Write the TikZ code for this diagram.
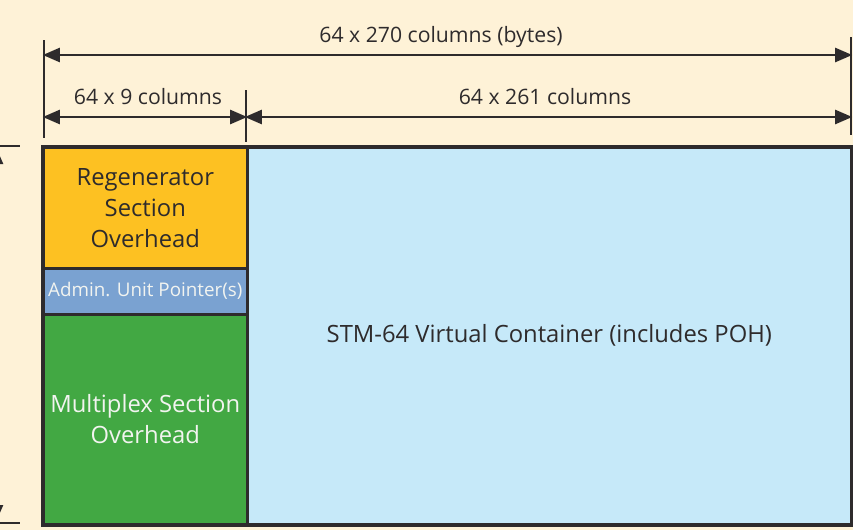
\documentclass[tikz,border=0pt]{standalone}
\usepackage{fontspec}
\setmainfont{Open Sans}
\usetikzlibrary{arrows.meta}
\definecolor{bg}{HTML}{FEF2D7}
\definecolor{rsoh}{HTML}{FDC122}
\definecolor{aup}{HTML}{7AA2D1}
\definecolor{msoh}{HTML}{42A843}
\definecolor{vc}{HTML}{C6E9F9}
\definecolor{ink}{HTML}{2E2B2C}
\definecolor{wtext}{HTML}{F2F4F0}
\begin{document}
\begin{tikzpicture}[x=1pt,y=-1pt,
  box/.style={draw=ink,line width=2.6pt,inner sep=0pt,anchor=north west,align=center},
  dim/.style={draw=ink,line width=2.4pt},
  dimarrow/.style={draw=ink,line width=2.4pt,{Triangle[length=17pt,width=14pt]}-{Triangle[length=17pt,width=14pt]}},
  dimlabel/.style={text=ink,font=\fontsize{21.2}{24}\selectfont,inner sep=0pt},
  boxtext/.style={font=\fontsize{23.8}{31}\selectfont}
]
\fill[bg] (0,0) rectangle (853,530);
\useasboundingbox (0,0) rectangle (853,530);
% boxes
\node[box,fill=vc,minimum width=604pt,minimum height=377pt,text=ink,boxtext] (vc) at (246,146) {STM-64 Virtual Container (includes POH)};
\node[box,fill=rsoh,minimum width=204pt,minimum height=121pt,text=ink,boxtext] (rsoh) at (42,146) {Regenerator\\Section\\Overhead};
\node[box,fill=aup,minimum width=204pt,minimum height=46pt,text=wtext,font=\fontsize{18.8}{20}\selectfont] (aup) at (42,267) {Admin. Unit Pointer(s)};
\node[box,fill=msoh,minimum width=204pt,minimum height=210pt,text=wtext,boxtext] (msoh) at (42,313) {Multiplex Section\\Overhead};
\draw[draw=ink,line width=3pt] (rsoh.north west) rectangle (vc.south east);
% dimension lines
\coordinate (l1) at (44,40);
\coordinate (l2) at (44,138);
\coordinate (m1) at (246,90);
\coordinate (m2) at (246,142);
\coordinate (r1) at (851,37);
\coordinate (r2) at (851,135);
\draw[dim] (l1) -- (l2);
\draw[dim] (m1) -- (m2);
\draw[dim] (r1) -- (r2);
\coordinate (a1) at (44,55);
\coordinate (b1) at (851,55);
\coordinate (a2) at (44,117);
\coordinate (b2) at (246,117);
\coordinate (c2) at (851,117);
\draw[dimarrow,shorten <=-1.2pt,shorten >=-1.2pt] (a1) -- (b1);
\draw[dimarrow,shorten <=-1.2pt,shorten >=-1.2pt] (a2) -- (b2);
\draw[dimarrow,shorten <=-1.2pt,shorten >=-1.2pt] (b2) -- (c2);
\node[dimlabel] (t1) at (441,37) {64 x 270 columns (bytes)};
\node[dimlabel] (t2) at (148,97) {64 x 9 columns};
\node[dimlabel] (t3) at (545,97) {64 x 261 columns};
% left vertical dimension (cut off)
\coordinate (v1) at (0,146);
\coordinate (v1e) at (20,146);
\coordinate (v2) at (0,523);
\coordinate (v2e) at (20,523);
\draw[dim] (v1) -- (v1e);
\draw[dim] (v2) -- (v2e);
\draw[dimarrow] (-4,147) -- (-4,522);
\end{tikzpicture}
\end{document}
